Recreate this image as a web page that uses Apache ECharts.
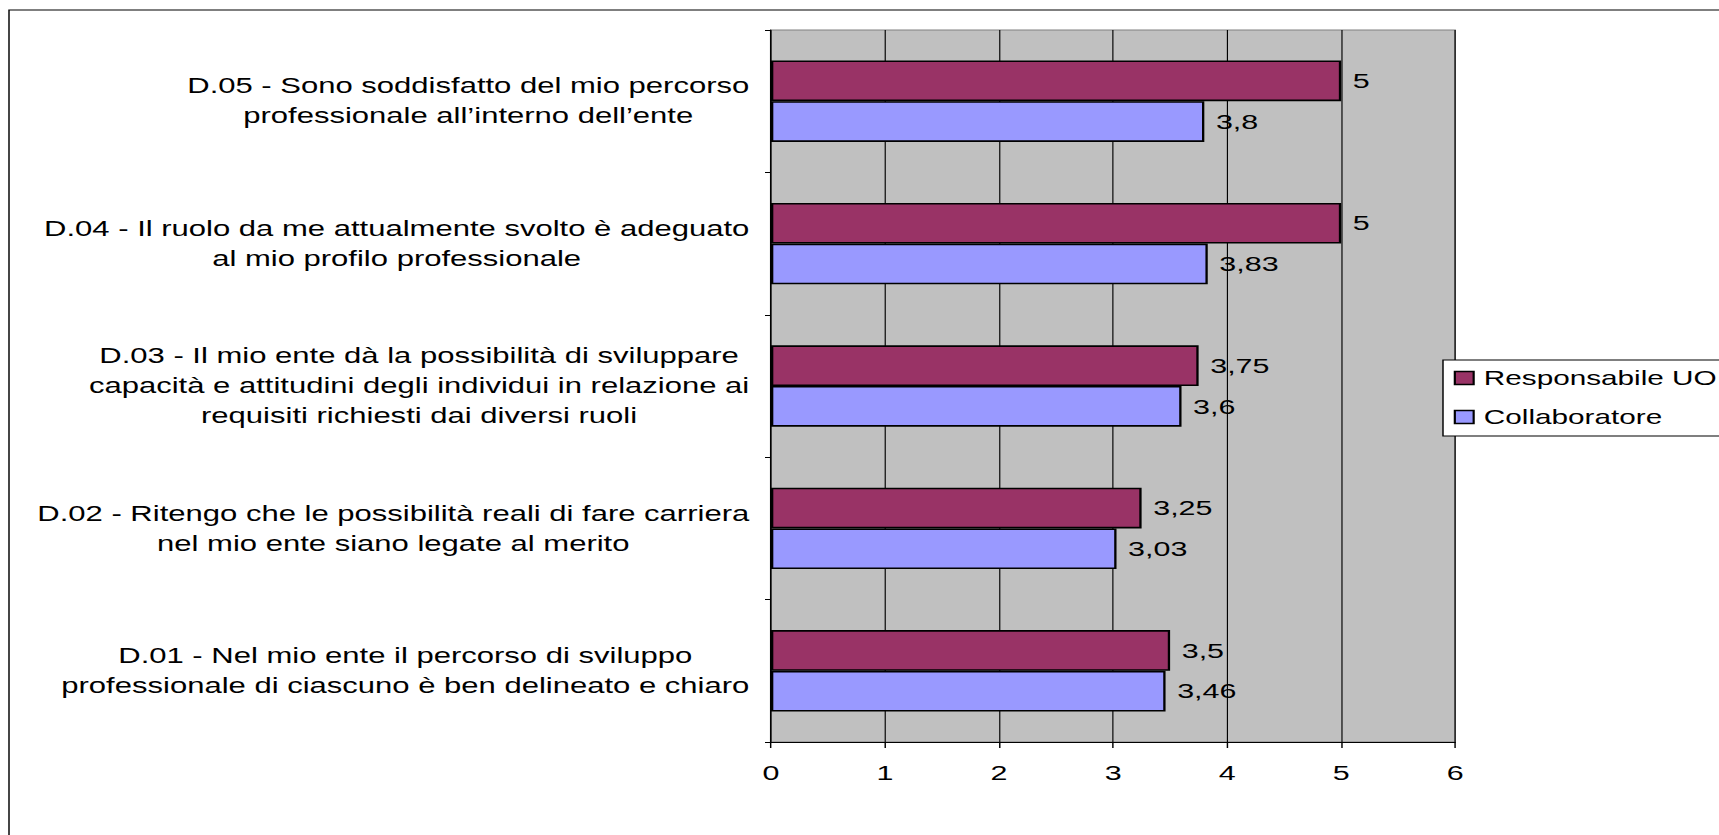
<!DOCTYPE html>
<html>
<head>
<meta charset="utf-8">
<script src="https://cdn.jsdelivr.net/npm/echarts@6/dist/echarts.min.js"></script>
<style>
  html, body { margin: 0; padding: 0; background: #fff; overflow: hidden; }
  #wrap { width: 1719px; height: 835px; overflow: hidden; position: relative; }
  #chart { position: absolute; left: 0; top: 0; height: 835px; transform-origin: 0 0; }
</style>
</head>
<body>
<div id="wrap"><div id="chart"></div></div>
<script>
// Survey items (bottom to top)
const categories = [
  'D.01 - Nel mio ente il percorso di sviluppo\nprofessionale di ciascuno è ben delineato e chiaro',
  'D.02 - Ritengo che le possibilità reali di fare carriera\nnel mio ente siano legate al merito',
  'D.03 - Il mio ente dà la possibilità di sviluppare\ncapacità e attitudini degli individui in relazione ai\nrequisiti richiesti dai diversi ruoli',
  'D.04 - Il ruolo da me attualmente svolto è adeguato\nal mio profilo professionale',
  'D.05 - Sono soddisfatto del mio percorso\nprofessionale all’interno dell’ente'
];
const seriesNames = ['Responsabile UO', 'Collaboratore'];
const responsabileUO = [3.5, 3.25, 3.75, 5, 5];
const collaboratore = [3.46, 3.03, 3.6, 3.83, 3.8];
const axisTicks = [0, 1, 2, 3, 4, 5, 6];

// The drawing is laid out on a narrower canvas and widened horizontally.
const S = 1.45;
const W = 1719 / S;
const FONT = '"Liberation Sans", Arial, sans-serif';
const FS = 21;

const el = document.getElementById('chart');
el.style.width = W + 'px';
el.style.transform = 'scaleX(' + S + ')';

const fmtComma = v => String(v).replace('.', ',');

const barLabel = {
  show: true, position: 'right', distance: 8,
  fontFamily: FONT, fontSize: FS, color: '#000',
  formatter: p => fmtComma(p.value)
};

const chart = echarts.init(el, null, { renderer: 'svg' });
chart.setOption({
  animation: false,
  backgroundColor: '#fff',
  graphic: [{
    type: 'rect',
    z: -10,
    shape: { x: 9 / S, y: 10, width: 3000, height: 3000 },
    style: { fill: 'none', stroke: '#000', lineWidth: 1 }
  }],
  grid: {
    left: 771 / S,
    right: W - 1454.5 / S,
    top: 30,
    bottom: 93,
    show: true,
    backgroundColor: '#c0c0c0',
    borderColor: '#808080',
    borderWidth: 1
  },
  legend: {
    data: seriesNames,
    orient: 'vertical',
    left: 1443 / S,
    top: 360,
    padding: [6, 60, 7, 7.4],
    itemGap: 15,
    itemWidth: 13,
    itemHeight: 13,
    icon: 'rect',
    backgroundColor: '#fff',
    borderColor: '#000',
    borderWidth: 1,
    borderRadius: 0,
    itemStyle: { borderColor: '#000', borderWidth: 1.5 },
    textStyle: { fontFamily: FONT, fontSize: 20.5, color: '#000', lineHeight: 24, padding: [0, 0, 0, 2] }
  },
  xAxis: {
    type: 'value',
    min: axisTicks[0],
    max: axisTicks[axisTicks.length - 1],
    interval: 1,
    axisLine: { show: true, lineStyle: { color: '#000', width: 1 } },
    axisTick: { show: true, length: 6, lineStyle: { color: '#000' } },
    axisLabel: { margin: 20, fontFamily: FONT, fontSize: FS, color: '#000' },
    splitLine: { show: true, lineStyle: { color: '#000', width: 0.8 } }
  },
  yAxis: {
    type: 'category',
    data: categories,
    axisLine: { show: true, lineStyle: { color: '#000', width: 1 } },
    axisTick: { show: true, length: 6 / S, lineStyle: { color: '#000' } },
    axisLabel: {
      interval: 0,
      margin: 15,
      align: 'right',
      formatter: v => v.split('\n').map(l => '{c|' + l + '}').join('\n'),
      rich: {
        c: { align: 'center', fontFamily: FONT, fontSize: 21.4, color: '#000', lineHeight: 30 }
      }
    },
    splitLine: { show: false }
  },
  series: [
    {
      name: seriesNames[0],
      type: 'bar',
      data: responsabileUO,
      barGap: '0%',
      barCategoryGap: '42.86%',
      itemStyle: { color: '#993366', borderColor: '#000', borderWidth: 1.6 },
      label: barLabel
    },
    {
      name: seriesNames[1],
      type: 'bar',
      data: collaboratore,
      barGap: '0%',
      barCategoryGap: '42.86%',
      itemStyle: { color: '#9999ff', borderColor: '#000', borderWidth: 1.6 },
      label: barLabel
    }
  ]
});
</script>
</body>
</html>
